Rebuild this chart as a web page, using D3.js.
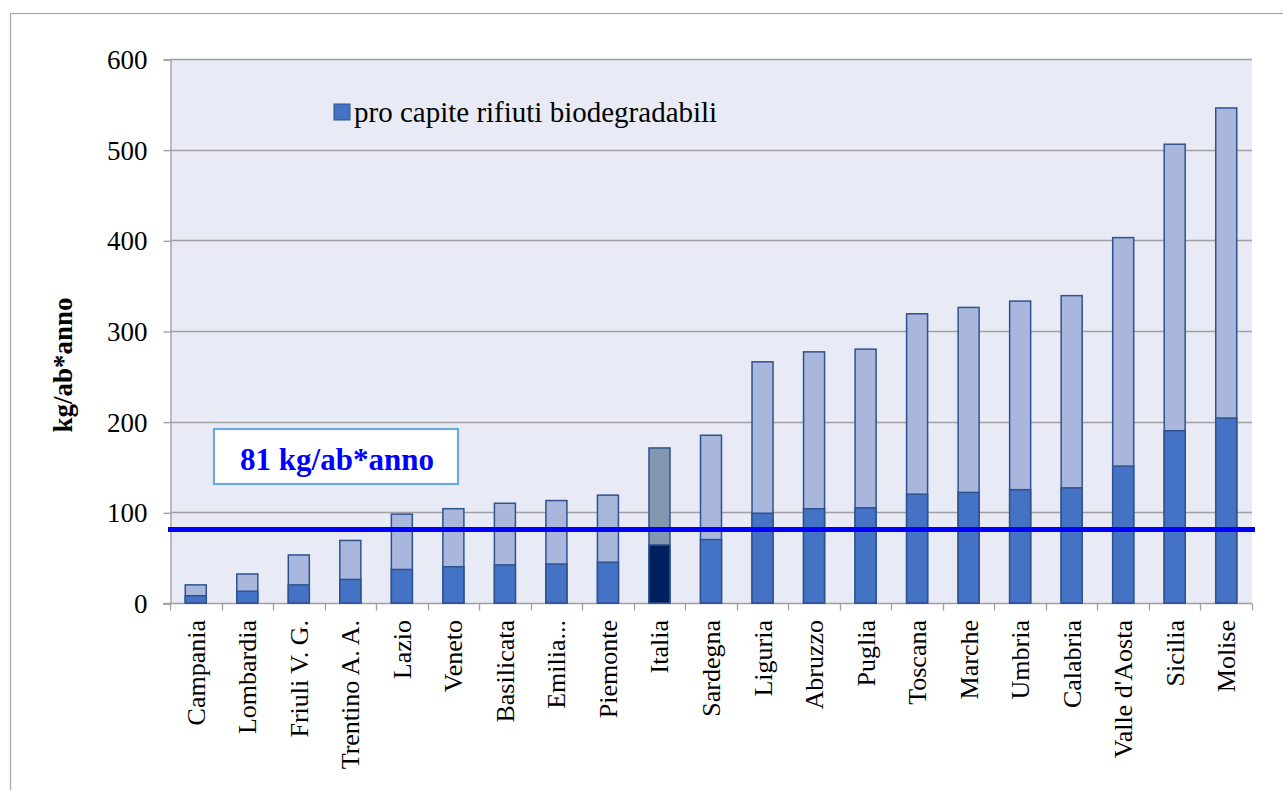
<!DOCTYPE html>
<html>
<head>
<meta charset="utf-8">
<script src="https://cdn.jsdelivr.net/npm/d3@7"></script>
<style>
  body { margin: 0; background: #fff; }
  svg { display: block; }
</style>
</head>
<body>
<svg id="chart"></svg>
<script>
// regions, sorted as in the original chart
const regions = ["Campania", "Lombardia", "Friuli V. G.", "Trentino A. A.", "Lazio", "Veneto",
  "Basilicata", "Emilia...", "Piemonte", "Italia", "Sardegna", "Liguria", "Abruzzo", "Puglia",
  "Toscana", "Marche", "Umbria", "Calabria", "Valle d'Aosta", "Sicilia", "Molise"];
// total per capita (light bar)
const totals = [20, 32, 53, 69, 98, 104, 110, 113, 119, 171, 185, 266, 277, 280, 319, 326, 333, 339, 403, 506, 546];
// biodegradable per capita (dark bar)
const biodeg = [8, 13, 20, 26, 37, 40, 42, 43, 45, 64, 70, 99, 104, 105, 120, 122, 125, 127, 151, 190, 204];
const yTicks = [0, 100, 200, 300, 400, 500, 600];
const target = 81;
const legendLabel = "pro capite rifiuti biodegradabili";
const targetLabel = "81 kg/ab*anno";
const yTitle = "kg/ab*anno";

const W = 1283, H = 790;
const plotLeft = 170, plotRight = 1252, plotTop = 59, plotBottom = 603;
const font = "'Liberation Serif', 'Times New Roman', serif";

const svg = d3.select('#chart').attr('width', W).attr('height', H);

// outer frame (cut off on the right and bottom, like the screenshot)
svg.append('rect')
  .attr('x', 10.5).attr('y', 13.5)
  .attr('width', W + 20).attr('height', H + 20)
  .attr('fill', 'none').attr('stroke', '#a6a6a6').attr('stroke-width', 1.2);

let x = d3.scaleBand().domain(regions).range([plotLeft, plotRight]);
let y = d3.scaleLinear().domain([0, 600]).range([plotBottom, plotTop]);

// plot background
svg.append('rect')
  .attr('x', plotLeft).attr('y', plotTop)
  .attr('width', plotRight - plotLeft).attr('height', plotBottom - plotTop)
  .attr('fill', '#e8ebf5');

// gridlines
svg.append('g')
  .selectAll('line')
  .data(yTicks.filter(d => d > 0))
  .enter().append('line')
  .attr('x1', plotLeft).attr('x2', plotRight)
  .attr('y1', d => Math.round(y(d)) + 0.5).attr('y2', d => Math.round(y(d)) + 0.5)
  .style('stroke', '#a0a0a0').style('stroke-width', 1.3);

// y axis
let yAxis = svg.append('g')
  .attr('transform', `translate(${plotLeft + 0.5},0.5)`)
  .call(d3.axisLeft(y).tickValues(yTicks).tickSize(7).tickPadding(16));
yAxis.select('.domain').attr('stroke', '#a0a0a0').attr('stroke-width', 1.3);
yAxis.selectAll('.tick line').attr('stroke', '#a0a0a0').attr('stroke-width', 1.3);
yAxis.selectAll('text')
  .style('font-family', font).style('font-size', '27px').attr('fill', '#000')
  .attr('dy', '0.33em');

// x axis (ticks between categories)
let xAxis = svg.append('g')
  .attr('transform', `translate(0,${plotBottom + 0.5})`);
xAxis.append('line')
  .attr('x1', plotLeft - 7).attr('x2', plotRight)
  .attr('stroke', '#a0a0a0').attr('stroke-width', 1.3);
xAxis.selectAll('.sep')
  .data(regions.map((d, i) => i).concat([regions.length]))
  .enter().append('line')
  .attr('class', 'sep')
  .attr('x1', i => Math.round(plotLeft + i * x.step()) + 0.5)
  .attr('x2', i => Math.round(plotLeft + i * x.step()) + 0.5)
  .attr('y1', 0).attr('y2', 7)
  .attr('stroke', '#a0a0a0').attr('stroke-width', 1.3);

// category labels
svg.append('g')
  .selectAll('text')
  .data(regions)
  .enter().append('text')
  .attr('transform', d => `translate(${x(d) + x.bandwidth() / 2 + 9},620) rotate(-90)`)
  .attr('text-anchor', 'end')
  .style('font-family', font).style('font-size', '26px')
  .text(d => d);

// bars
const barW = 21;
let rows = regions.map((r, i) => ({ region: r, total: totals[i], bio: biodeg[i] }));

let bars = svg.append('g');
bars.selectAll('.total')
  .data(rows)
  .enter().append('rect')
  .attr('class', 'total')
  .attr('x', d => x(d.region) + (x.bandwidth() - barW) / 2)
  .attr('y', d => y(d.total))
  .attr('width', barW)
  .attr('height', d => y(0) - y(d.total))
  .attr('fill', d => d.region === 'Italia' ? '#8497b0' : '#a9b7dc')
  .attr('stroke', '#2f528f').attr('stroke-width', 1.5);
bars.selectAll('.bio')
  .data(rows)
  .enter().append('rect')
  .attr('class', 'bio')
  .attr('x', d => x(d.region) + (x.bandwidth() - barW) / 2)
  .attr('y', d => y(d.bio))
  .attr('width', barW)
  .attr('height', d => y(0) - y(d.bio))
  .attr('fill', d => d.region === 'Italia' ? '#002060' : '#4472c4')
  .attr('stroke', '#2f528f').attr('stroke-width', 1.5);

// target line at 81
svg.append('line')
  .attr('x1', plotLeft - 2).attr('x2', plotRight + 3)
  .attr('y1', y(target)).attr('y2', y(target))
  .attr('stroke', '#0000ff').attr('stroke-width', 5);

// target label box
svg.append('rect')
  .attr('x', 214).attr('y', 429)
  .attr('width', 244).attr('height', 55)
  .attr('fill', '#fff').attr('stroke', '#6fa8dc').attr('stroke-width', 2.2);
svg.append('text')
  .attr('x', 337).attr('y', 470)
  .attr('text-anchor', 'middle')
  .style('font-family', font).style('font-size', '31px').style('font-weight', 'bold')
  .attr('fill', '#0000ff')
  .text(targetLabel);

// legend
svg.append('rect')
  .attr('x', 334).attr('y', 104)
  .attr('width', 16).attr('height', 16)
  .attr('fill', '#4472c4').attr('stroke', '#2f528f').attr('stroke-width', 1);
svg.append('text')
  .attr('x', 354).attr('y', 122)
  .style('font-family', font).style('font-size', '29px')
  .text(legendLabel);

// y axis title
svg.append('text')
  .attr('transform', `translate(72,365) rotate(-90)`)
  .attr('text-anchor', 'middle')
  .style('font-family', font).style('font-size', '27px').style('font-weight', 'bold')
  .text(yTitle);
</script>
</body>
</html>
